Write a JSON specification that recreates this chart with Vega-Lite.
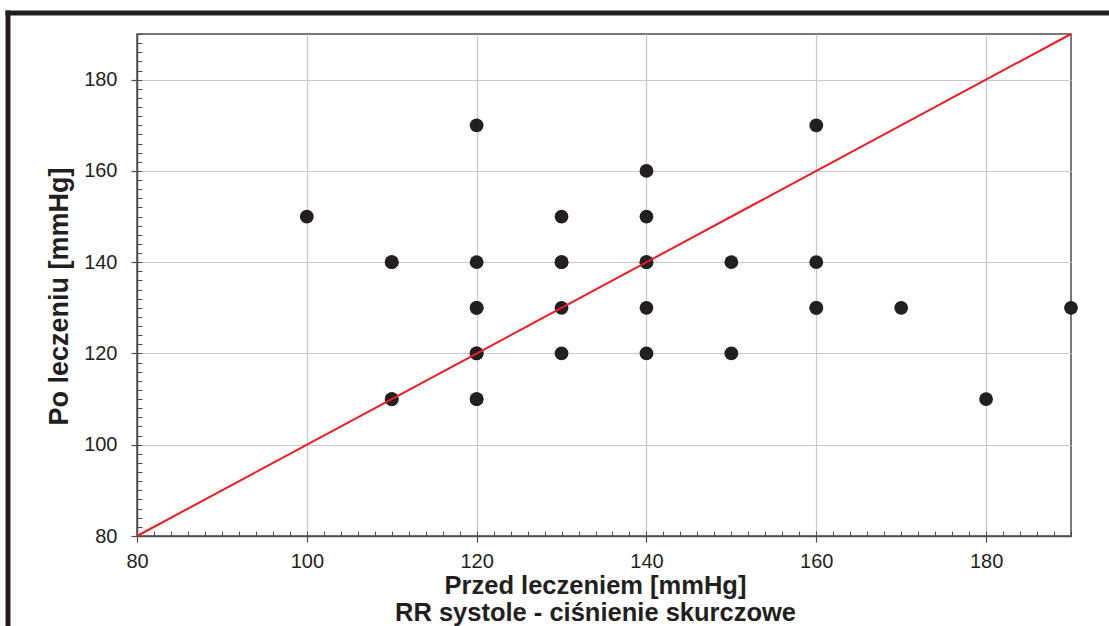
{
  "$schema": "https://vega.github.io/schema/vega-lite/v6.json",
  "width": 934,
  "height": 502,
  "autosize": "none",
  "padding": {"left": 137, "top": 34, "right": 38, "bottom": 90},
  "background": "white",
  "config": {
    "font": "Liberation Sans",
    "view": {"stroke": "#4d4d4d", "strokeWidth": 1.5},
    "axis": {
      "labelFont": "Liberation Sans",
      "titleFont": "Liberation Sans",
      "labelColor": "#231f20",
      "titleColor": "#231f20",
      "tickColor": "#4d4d4d",
      "domainColor": "#4d4d4d",
      "gridColor": "#c8c8c8",
      "labelFlush": false
    }
  },
  "layer": [
    {
      "data": {"values": [{"fx": 0, "fy": 0}]},
      "mark": {"type": "point", "opacity": 0},
      "encoding": {
        "x": {
          "field": "fx", "type": "quantitative",
          "scale": {"domain": [0, 1], "range": [-132, 1000], "nice": false, "zero": false},
          "axis": {"orient": "top", "offset": 21.5, "domainWidth": 5, "domainColor": "#231f20", "ticks": false, "labels": false, "grid": false, "title": null}
        },
        "y": {
          "field": "fy", "type": "quantitative",
          "scale": {"domain": [0, 1], "range": [620, -24], "nice": false, "zero": false},
          "axis": {"orient": "left", "offset": 129.5, "domainWidth": 5, "domainColor": "#231f20", "ticks": false, "labels": false, "grid": false, "title": null}
        }
      }
    },
    {
      "data": {"values": [
        {"before": 100, "after": 150},
        {"before": 110, "after": 140},
        {"before": 110, "after": 140},
        {"before": 110, "after": 110},
        {"before": 110, "after": 110},
        {"before": 120, "after": 170},
        {"before": 120, "after": 140},
        {"before": 120, "after": 130},
        {"before": 120, "after": 130},
        {"before": 120, "after": 120},
        {"before": 120, "after": 120},
        {"before": 120, "after": 110},
        {"before": 120, "after": 110},
        {"before": 130, "after": 150},
        {"before": 130, "after": 140},
        {"before": 130, "after": 140},
        {"before": 130, "after": 130},
        {"before": 130, "after": 120},
        {"before": 140, "after": 160},
        {"before": 140, "after": 150},
        {"before": 140, "after": 140},
        {"before": 140, "after": 140},
        {"before": 140, "after": 130},
        {"before": 140, "after": 120},
        {"before": 150, "after": 140},
        {"before": 150, "after": 120},
        {"before": 160, "after": 170},
        {"before": 160, "after": 140},
        {"before": 160, "after": 130},
        {"before": 160, "after": 130},
        {"before": 170, "after": 130},
        {"before": 180, "after": 110},
        {"before": 190, "after": 130}
      ]},
      "mark": {"type": "circle", "size": 190, "color": "#231f20", "opacity": 1},
      "encoding": {
        "x": {
          "field": "before", "type": "quantitative",
          "scale": {"domain": [80, 190], "nice": false, "zero": false},
          "axis": {
            "orient": "bottom",
            "values": [80, 100, 120, 140, 160, 180],
            "grid": true, "gridWidth": 1.2,
            "tickSize": 6, "tickWidth": 1.2,
            "domainWidth": 1.5,
            "labelFontSize": 20, "labelPadding": 9,
            "title": ["Przed leczeniem [mmHg]", "RR systole - ciśnienie skurczowe"],
            "titleFontSize": 25.5, "titleFontWeight": "bold", "titleLineHeight": 27,
            "titleBaseline": "alphabetic", "titleAlign": "center",
            "titleX": 458, "titleY": 57
          }
        },
        "y": {
          "field": "after", "type": "quantitative",
          "scale": {"domain": [80, 190], "nice": false, "zero": false},
          "axis": {
            "orient": "left",
            "values": [80, 100, 120, 140, 160, 180],
            "grid": true, "gridWidth": 1.2,
            "tickSize": 6, "tickWidth": 1.2,
            "domainWidth": 1.5,
            "labelFontSize": 20, "labelPadding": 14,
            "title": "Po leczeniu [mmHg]",
            "titleFontSize": 27, "titleFontWeight": "bold",
            "titleAngle": -90, "titleBaseline": "alphabetic", "titleAlign": "center",
            "titleX": -70, "titleY": 262
          }
        }
      }
    },
    {
      "data": {"values": [{"before": 80, "after": 80}, {"before": 190, "after": 190}]},
      "mark": {"type": "line", "color": "#ed1c24", "strokeWidth": 2},
      "encoding": {
        "x": {
          "field": "before", "type": "quantitative",
          "scale": {"domain": [80, 190], "nice": false, "zero": false},
          "axis": {
            "orient": "bottom",
            "values": [80, 82, 84, 86, 88, 90, 92, 94, 96, 98, 100, 102, 104, 106, 108, 110, 112, 114, 116, 118, 120, 122, 124, 126, 128, 130, 132, 134, 136, 138, 140, 142, 144, 146, 148, 150, 152, 154, 156, 158, 160, 162, 164, 166, 168, 170, 172, 174, 176, 178, 180, 182, 184, 186, 188, 190],
            "tickSize": -5, "tickWidth": 1, "labels": false, "domain": false, "grid": false, "title": null
          }
        },
        "y": {
          "field": "after", "type": "quantitative",
          "scale": {"domain": [80, 190], "nice": false, "zero": false},
          "axis": {
            "orient": "left",
            "values": [80, 82, 84, 86, 88, 90, 92, 94, 96, 98, 100, 102, 104, 106, 108, 110, 112, 114, 116, 118, 120, 122, 124, 126, 128, 130, 132, 134, 136, 138, 140, 142, 144, 146, 148, 150, 152, 154, 156, 158, 160, 162, 164, 166, 168, 170, 172, 174, 176, 178, 180, 182, 184, 186, 188, 190],
            "tickSize": -5, "tickWidth": 1, "labels": false, "domain": false, "grid": false, "title": null
          }
        }
      }
    }
  ],
  "resolve": {
    "scale": {"x": "independent", "y": "independent"},
    "axis": {"x": "independent", "y": "independent"}
  }
}
